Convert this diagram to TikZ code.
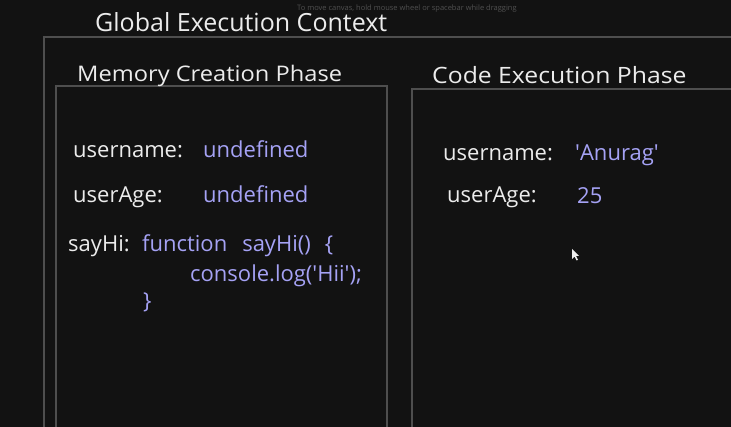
\documentclass[tikz,border=0pt]{standalone}
\usepackage{fontspec}
\setmainfont{Open Sans}
\newfontfamily\wide{Open Sans}[FakeStretch=1.1]
\definecolor{bg}{HTML}{121212}
\definecolor{frame}{HTML}{4E4E4E}
\definecolor{ink}{HTML}{ECECEC}
\definecolor{val}{HTML}{A5A2F5}
\definecolor{hint}{HTML}{505050}
\tikzset{
  box/.style={draw=frame, line width=1.5pt},
  title/.style={text=ink, anchor=base west, inner sep=0pt, font=\fontsize{25}{29}\selectfont},
  phase/.style={text=ink, anchor=base west, inner sep=0pt, font=\wide\fontsize{22}{26}\selectfont},
  key/.style={text=ink, anchor=base west, inner sep=0pt, font=\fontsize{22}{26}\selectfont},
  value/.style={text=val, anchor=base west, inner sep=0pt, font=\fontsize{22}{26}\selectfont},
  hinttext/.style={text=hint, anchor=base west, inner sep=0pt, font=\fontsize{7.5}{9}\selectfont}
}
\begin{document}
\begin{tikzpicture}[x=1pt,y=-1pt]
\fill[bg] (0,0) rectangle (731,427);
\useasboundingbox (0,0) rectangle (731,427);
\clip (0,0) rectangle (731,427);
% frames
\draw[box] (44,445) -- (44,37) -- (745,37);
\draw[box] (56,445) -- (56,86) -- (387,86) -- (387,445);
\draw[box] (412,445) -- (412,89) -- (745,89);
% hint
\node[hinttext] (hint) at (297,10.5) {To move canvas, hold mouse wheel or spacebar while dragging};
% titles
\node[title] (gec) at (95,32) {Global Execution Context};
\node[phase, font=\wide\fontsize{21.5}{26}\selectfont] (mcp) at (77,82) {Memory Creation Phase};
\node[phase, font=\wide\fontsize{22.5}{26}\selectfont] (cep) at (432,84) {Code Execution Phase};
% memory phase
\node[key] (k1) at (73,158) {username:};
\node[value] (v1) at (203,158) {undefined};
\node[key] (k2) at (73,203) {userAge:};
\node[value] (v2) at (203,203) {undefined};
\node[key] (k3) at (68,252) {sayHi:};
\node[value] (v3) at (142,252) {function\hspace{15pt}sayHi()\hspace{14pt}\{};
\node[value] (v4) at (190,282) {console.log(\textquotesingle Hii\textquotesingle);};
\node[value] (v5) at (143,309) {\}};
% execution phase
\node[key] (e1) at (443,161) {username:};
\node[value] (w1) at (575,161) {\textquotesingle Anurag\textquotesingle};
\node[key] (e2) at (447,203) {userAge:};
\node[value] (w2) at (577,204) {25};
% cursor
\fill[ink] (572,249) -- (572,259) -- (574.5,256.5) -- (576.5,260.5) -- (578,259.8) -- (576,256) -- (579,256) -- cycle;
\end{tikzpicture}
\end{document}
